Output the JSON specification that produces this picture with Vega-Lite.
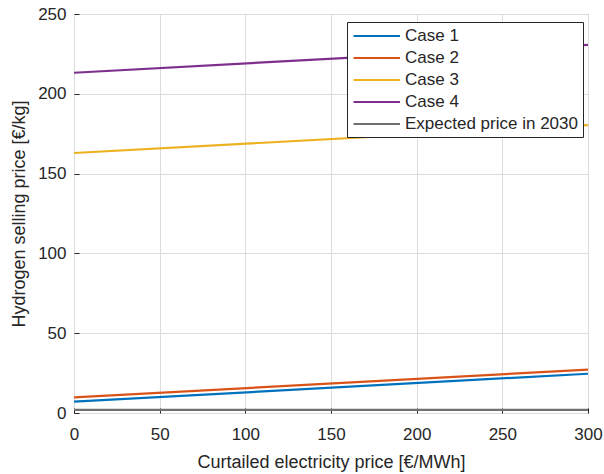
{
  "$schema": "https://vega.github.io/schema/vega-lite/v6.json",
  "autosize": {"type": "none"},
  "width": 514,
  "height": 399,
  "padding": {"left": 74, "top": 14, "right": 16, "bottom": 61},
  "background": "white",
  "config": {
    "font": "Liberation Sans",
    "view": {"stroke": "#262626", "strokeWidth": 1},
    "axis": {
      "labelFont": "Liberation Sans",
      "titleFont": "Liberation Sans",
      "labelFontSize": 17,
      "titleFontSize": 18,
      "titleFontWeight": "normal",
      "labelColor": "#262626",
      "titleColor": "#262626",
      "gridColor": "#dcdcdc",
      "gridWidth": 1,
      "domain": false,
      "labelFlush": false,
      "tickColor": "#262626",
      "tickSize": -5
    }
  },
  "data": {
    "values": [
      {"x": 0, "y": 7.1, "series": "Case 1"},
      {"x": 300, "y": 24.6, "series": "Case 1"},
      {"x": 0, "y": 9.8, "series": "Case 2"},
      {"x": 300, "y": 27.2, "series": "Case 2"},
      {"x": 0, "y": 162.9, "series": "Case 3"},
      {"x": 300, "y": 180.4, "series": "Case 3"},
      {"x": 0, "y": 213.2, "series": "Case 4"},
      {"x": 300, "y": 230.7, "series": "Case 4"},
      {"x": 0, "y": 1.9, "series": "Expected price in 2030"},
      {"x": 300, "y": 1.9, "series": "Expected price in 2030"}
    ]
  },
  "mark": {"type": "line", "strokeWidth": 2.2, "clip": true},
  "encoding": {
    "x": {
      "field": "x",
      "type": "quantitative",
      "scale": {"domain": [0, 300], "nice": false},
      "axis": {"values": [0, 50, 100, 150, 200, 250, 300], "title": "Curtailed electricity price [€/MWh]", "labelPadding": 18, "titlePadding": 11}
    },
    "y": {
      "field": "y",
      "type": "quantitative",
      "scale": {"domain": [0, 250], "nice": false},
      "axis": {"values": [0, 50, 100, 150, 200, 250], "title": "Hydrogen selling price [€/kg]", "labelPadding": 13, "titlePadding": 9}
    },
    "color": {
      "field": "series",
      "type": "nominal",
      "scale": {
        "domain": ["Case 1", "Case 2", "Case 3", "Case 4", "Expected price in 2030"],
        "range": ["#0072BD", "#D95319", "#EDB120", "#7E2F8E", "#707070"]
      },
      "legend": {
        "title": null,
        "orient": "none",
        "legendX": 273,
        "legendY": 8,
        "symbolType": "M-1,0H5.2",
        "symbolSize": 225,
        "symbolStrokeWidth": 2.2,
        "labelFont": "Liberation Sans",
        "labelFontSize": 17,
        "labelColor": "#262626",
        "labelOffset": 35,
        "labelLimit": 400,
        "rowPadding": 5,
        "padding": 5,
        "strokeColor": "#262626",
        "fillColor": "white",
        "cornerRadius": 0
      }
    }
  }
}
